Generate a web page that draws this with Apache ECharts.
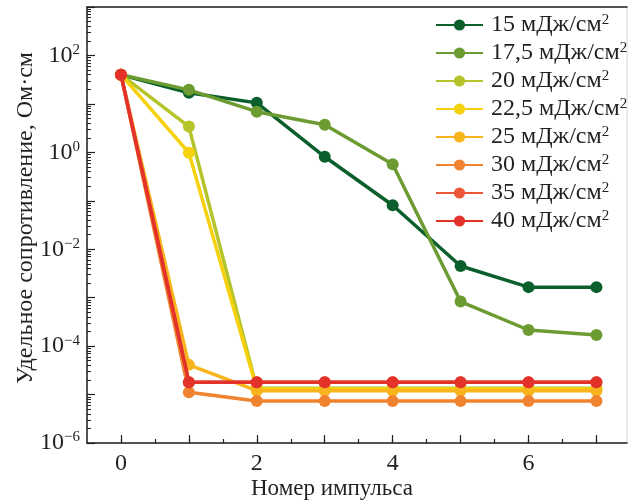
<!DOCTYPE html>
<html>
<head>
<meta charset="utf-8">
<script src="https://cdn.jsdelivr.net/npm/echarts@6/dist/echarts.min.js"></script>
<style>
html,body{margin:0;padding:0;background:#fff;}
#chart{width:634px;height:502px;}
</style>
</head>
<body>
<div id="chart"></div>
<script>
// ---- data ----
const pulses = [0, 1, 2, 3, 4, 5, 6, 7];
const seriesNames = ['15', '17,5', '20', '22,5', '25', '30', '35', '40'];
const s15   = [40, 17, 10.5, 0.81, 0.081, 0.0045, 0.00165, 0.00165];
const s17_5 = [40, 19.5, 6.9, 3.7, 0.57, 0.00083, 0.000215, 0.00017];
const s20   = [40, 3.4, 1.35e-5, 1.35e-5, 1.35e-5, 1.35e-5, 1.35e-5, 1.35e-5];
const s22_5 = [40, 0.98, 1.3e-5, 1.3e-5, 1.3e-5, 1.3e-5, 1.3e-5, 1.3e-5];
const s25   = [40, 4.1e-5, 1.2e-5, 1.2e-5, 1.2e-5, 1.2e-5, 1.2e-5, 1.2e-5];
const s30   = [40, 1.12e-5, 7.4e-6, 7.4e-6, 7.4e-6, 7.4e-6, 7.4e-6, 7.4e-6];
const s35   = [40, 1.8e-5, 1.8e-5, 1.8e-5, 1.8e-5, 1.8e-5, 1.8e-5, 1.8e-5];
const s40   = [40, 1.8e-5, 1.8e-5, 1.8e-5, 1.8e-5, 1.8e-5, 1.8e-5, 1.8e-5];
const allValues = [s15, s17_5, s20, s22_5, s25, s30, s35, s40];
const colors = ['#0b5f2c', '#6b9b31', '#b5c42a', '#f6d10e', '#f7b41c', '#f0832f', '#ec573a', '#e3322a'];

const xLabelValues = [0, 2, 4, 6];
const xHalfTicks = [0, 0.5, 1, 1.5, 2, 2.5, 3, 3.5, 4, 4.5, 5, 5.5, 6, 6.5, 7];
const yExpMin = -6, yExpMax = 3;
const yLabelExps = [-6, -4, -2, 0, 2];

// minor log ticks (2..9 x 10^e) expressed as exponents for a linear helper axis
const yMinorTicks = [];
for (let e = yExpMin; e < yExpMax; e++) {
  for (let m = 2; m <= 9; m++) yMinorTicks.push(e + Math.log10(m));
}

const FONT = '"Liberation Serif", "DejaVu Serif", serif';
const TXT = '#231f20';

const chart = echarts.init(document.getElementById('chart'), null, {renderer: 'canvas'});

function supLabel(exp) {
  const s = exp < 0 ? '\u2212' + Math.abs(exp) : String(exp);
  return '{b|10}{s|' + s + '}';
}

const series = seriesNames.map((n, i) => ({
  name: n,
  type: 'line',
  xAxisIndex: 0,
  yAxisIndex: 0,
  data: pulses.map((p, j) => [p, allValues[i][j]]),
  symbol: 'circle',
  symbolSize: 12,
  showSymbol: true,
  lineStyle: {width: 3.5, color: colors[i]},
  itemStyle: {color: colors[i]},
  emphasis: {disabled: true},
  z: 2 + i
}));

const option = {
  animation: false,
  backgroundColor: '#fff',
  textStyle: {fontFamily: FONT, color: TXT},
  grid: {left: 87, right: 7, top: 7, bottom: 59, outerBoundsMode: 'none', containLabel: false,
         show: true, borderColor: '#d8d8d8', borderWidth: 1},
  legend: {
    left: 435, top: 13, orient: 'vertical', padding: 0,
    itemWidth: 47, itemHeight: 14, itemGap: 4,
    data: seriesNames,
    formatter: n => '{t|' + n + ' мДж/см}{s|2}',
    textStyle: {
      fontFamily: FONT, color: TXT, fontSize: 24,
      rich: {
        t: {fontFamily: FONT, fontSize: 24, color: TXT, lineHeight: 24, padding: [0, 0, 0, 3]},
        s: {fontFamily: FONT, fontSize: 15, color: TXT, verticalAlign: 'top', lineHeight: 15}
      }
    }
  },
  xAxis: [
    {
      type: 'value', min: -0.5, max: 7.45, position: 'bottom',
      name: 'Номер импульса', nameLocation: 'middle', nameGap: 34, nameMoveOverlap: false,
      nameTextStyle: {fontFamily: FONT, fontSize: 23, color: TXT, padding: [0, 50, 0, 0]},
      axisLine: {show: true, onZero: false, lineStyle: {color: '#231f20', width: 1.5}},
      axisTick: {show: true, inside: true, length: 4, customValues: xHalfTicks, lineStyle: {color: '#231f20', width: 1.2}},
      axisLabel: {show: true, customValues: xLabelValues, margin: 9, fontFamily: FONT, fontSize: 24, color: TXT},
      splitLine: {show: false}
    },
    {
      type: 'value', min: -0.5, max: 7.45, position: 'bottom',
      axisLine: {show: false, onZero: false},
      axisTick: {show: true, inside: true, length: 8, customValues: pulses, lineStyle: {color: '#231f20', width: 1.2}},
      axisLabel: {show: false},
      splitLine: {show: false}
    },
    {
      type: 'value', min: -0.5, max: 7.45, position: 'top',
      axisLine: {show: true, onZero: false, lineStyle: {color: '#231f20', width: 1.5}},
      axisTick: {show: false}, axisLabel: {show: false}, splitLine: {show: false}
    }
  ],
  yAxis: [
    {
      type: 'log', logBase: 10, min: Math.pow(10, yExpMin), max: Math.pow(10, yExpMax), position: 'left',
      axisLine: {show: true, onZero: false, lineStyle: {color: '#231f20', width: 1.5}},
      axisTick: {show: false}, axisLabel: {show: false}, splitLine: {show: false}, minorTick: {show: false}
    },
    {
      type: 'value', min: yExpMin, max: yExpMax, interval: 1, position: 'left',
      name: 'Удельное сопротивление, Ом·см', nameLocation: 'middle', nameGap: 49, nameRotate: 90,
      nameMoveOverlap: false,
      nameTextStyle: {fontFamily: FONT, fontSize: 24, color: TXT, padding: [0, 0, 0, 14]},
      axisLine: {show: false, onZero: false},
      axisTick: {show: true, inside: true, length: 8, lineStyle: {color: '#231f20', width: 1.2}},
      axisLabel: {
        show: true, margin: 7, customValues: yLabelExps,
        formatter: v => supLabel(v),
        rich: {
          b: {fontFamily: FONT, fontSize: 24, color: TXT, lineHeight: 26},
          s: {fontFamily: FONT, fontSize: 15, color: TXT, verticalAlign: 'top', lineHeight: 15}
        }
      },
      splitLine: {show: false}
    },
    {
      type: 'value', min: yExpMin, max: yExpMax, position: 'left',
      axisLine: {show: false, onZero: false},
      axisTick: {show: true, inside: true, length: 4, customValues: yMinorTicks, lineStyle: {color: '#231f20', width: 1}},
      axisLabel: {show: false}, splitLine: {show: false}
    }
  ],
  series: series
};
chart.setOption(option);
</script>
</body>
</html>
